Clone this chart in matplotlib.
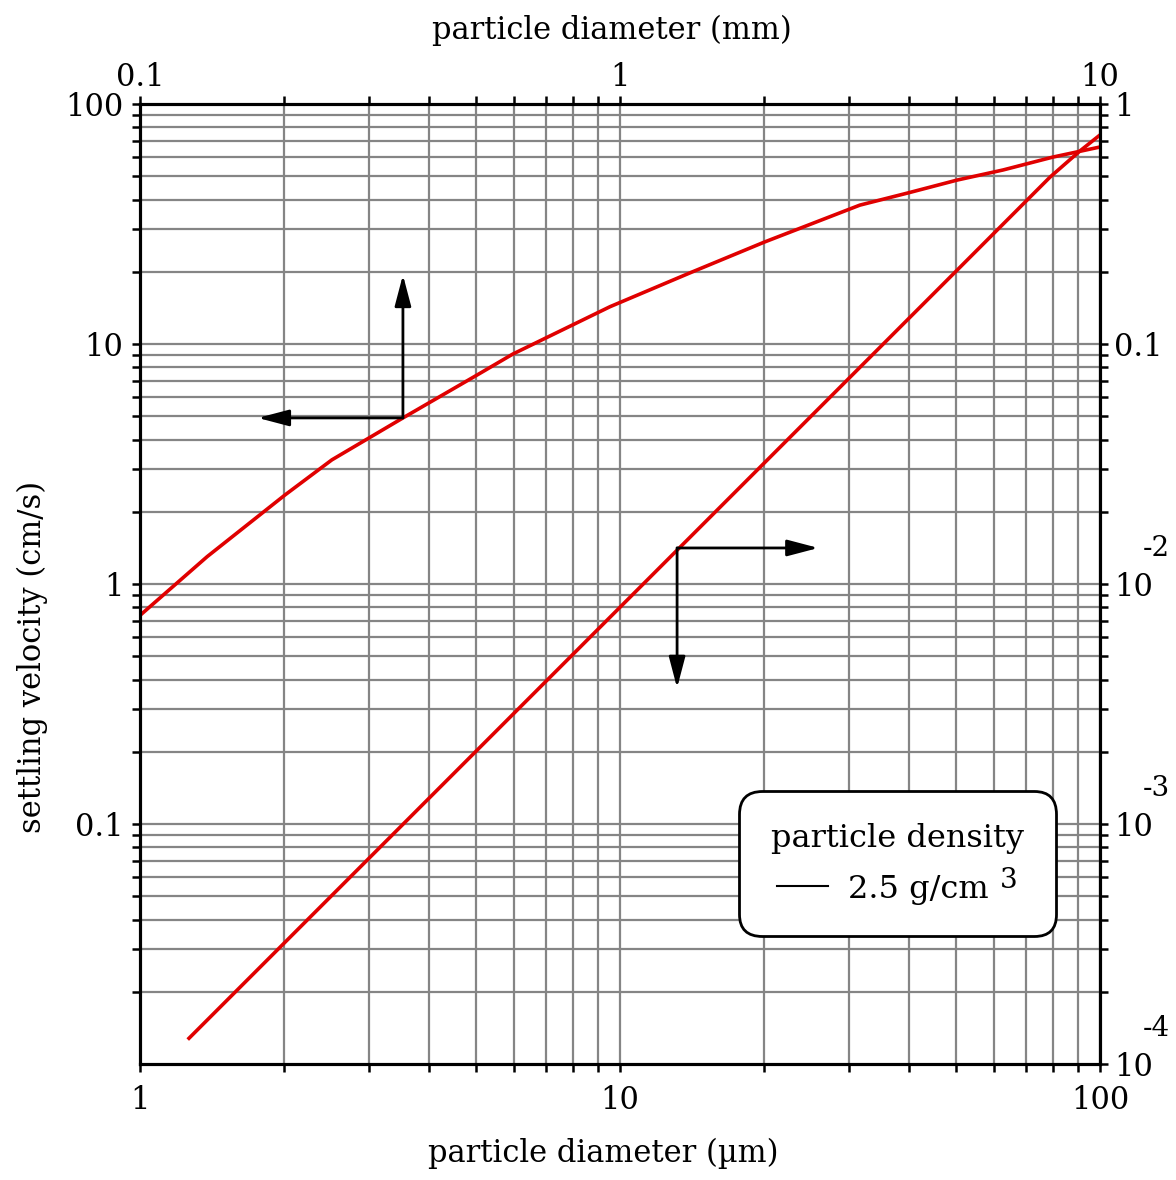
import numpy as np
import matplotlib
matplotlib.use('Agg')
import matplotlib.pyplot as plt
import matplotlib.transforms as mtrans
from matplotlib.lines import Line2D

# upper curve: diameter in mm (top axis), velocity on left axis (cm/s)
coarse_mm = [0.1, 0.138, 0.2005, 0.251, 0.353, 0.504, 0.598,
             0.953, 1.40, 2.0, 3.16, 3.98, 5.04, 6.28, 7.98, 10]
coarse_vel = [0.74, 1.30, 2.35, 3.29, 4.92, 7.43, 9.08,
              14.3, 19.8, 26.6, 37.9, 42.6, 48.2, 53.1, 60.1, 66.2]

# lower curve: diameter in um (bottom axis), velocity on right axis (cm/s)
fine_um = [1.265, 10, 25, 50, 78.7, 90.8, 100]
fine_vel = [1.28e-4, 8.0e-3, 5.0e-2, 0.200, 0.496, 0.637, 0.743]

bottom_ticks = [1, 10, 100]
bottom_labels = ['1', '10', '100']
top_ticks = [0.1, 1, 10]
top_labels = ['0.1', '1', '10']
left_ticks = [0.1, 1, 10, 100]
left_labels = ['0.1', '1', '10', '100']
right_ticks = [1e-4, 1e-3, 1e-2, 0.1, 1]
right_labels = ['10', '10', '10', '0.1', '1']
right_exps = ['-4', '-3', '-2', '', '']

plt.rcParams['font.family'] = ['DejaVu Serif']
FS = 22
RED = '#e00000'
GRID = '#858585'

fig = plt.figure(figsize=(11.76, 11.80), dpi=100)
ax = fig.add_axes([140/1176, 1-1064/1180, 960/1176, 960/1180])
ax.set_xscale('log')
ax.set_yscale('log')
ax.set_xlim(1, 100)
ax.set_ylim(0.01, 100)
ax.grid(True, which='both', color=GRID, lw=1.6)
ax.set_axisbelow(True)

ax_top = ax.twiny()
ax_top.set_xscale('log')
ax_top.set_xlim(0.1, 10)

ax_r = ax.twinx()
ax_r.set_yscale('log')
ax_r.set_ylim(1e-4, 1)

for a in (ax, ax_top, ax_r):
    for s in a.spines.values():
        s.set_linewidth(2.2)
    a.tick_params(which='both', direction='out', length=6, width=1.8, labelsize=FS)

ax.set_xticks(bottom_ticks, bottom_labels)
ax.set_yticks(left_ticks, left_labels)
ax_top.set_xticks(top_ticks, top_labels)
ax_r.set_yticks(right_ticks, right_labels)
ax.tick_params(axis='x', pad=9)
ax.tick_params(axis='y', pad=6)
ax_top.tick_params(axis='x', pad=2)
ax_r.tick_params(axis='y', pad=4)

# exponents of the right-hand tick labels
rtrans = mtrans.blended_transform_factory(ax_r.transAxes, ax_r.transData)
for t, e in zip(right_ticks, right_exps):
    if e:
        ax_r.annotate(e, xy=(1, t), xycoords=rtrans, xytext=(43, 35),
                      textcoords='offset pixels', ha='left', va='center',
                      fontsize=20, annotation_clip=False)

ax_top.plot(coarse_mm, coarse_vel, color=RED, lw=2.6)
ax_r.plot(fine_um, fine_vel, color=RED, lw=2.6)

# arrows pointing to the axes each curve belongs to
arr = dict(arrowstyle='-|>,head_length=1.9,head_width=0.5', color='black', lw=2,
           shrinkA=0, shrinkB=0)
ax_top.annotate('', xy=(0.353, 19.4), xytext=(0.353, 4.92), arrowprops=arr)
ax_top.annotate('', xy=(0.176, 4.92), xytext=(0.353, 4.92), arrowprops=arr)
ax_r.annotate('', xy=(25.9, 0.01413), xytext=(13.15, 0.01413), arrowprops=arr)
ax_r.annotate('', xy=(13.15, 3.69e-3), xytext=(13.15, 0.01413), arrowprops=arr)

ax.set_xlabel('particle diameter (µm)', fontsize=FS)
ax.xaxis.set_label_coords(0.483, -0.077)
ax.set_ylabel('settling velocity (cm/s)', fontsize=FS)
ax.yaxis.set_label_coords(-0.096, 0.424)
ax_top.set_xlabel('particle diameter (mm)', fontsize=FS)
ax_top.xaxis.set_label_coords(0.492, 1.068)

handle = Line2D([], [], color='black', lw=1.5)
leg = ax_r.legend([handle], ['2.5 g/cm   '], title='particle density',
                  loc='upper left', bbox_to_anchor=(749/1176, 1-801/1180),
                  bbox_transform=fig.transFigure, borderaxespad=0,
                  fontsize=23, title_fontsize=23, handlelength=1.6,
                  handletextpad=0.6, borderpad=0.7, labelspacing=0.6,
                  framealpha=1, edgecolor='black', fancybox=True)
leg.get_frame().set_linewidth(2)
leg.get_frame().set_boxstyle('round', pad=0.3, rounding_size=0.7)

# superscript 3 placed after the legend entry text
fig.canvas.draw()
bb = leg.get_texts()[0].get_window_extent(fig.canvas.get_renderer())
fig.text(bb.x0 + 152, bb.y1 - 7, '3', fontsize=20, ha='left', va='center',
         transform=mtrans.IdentityTransform(), zorder=10)

fig.savefig('out.png', dpi=100)
